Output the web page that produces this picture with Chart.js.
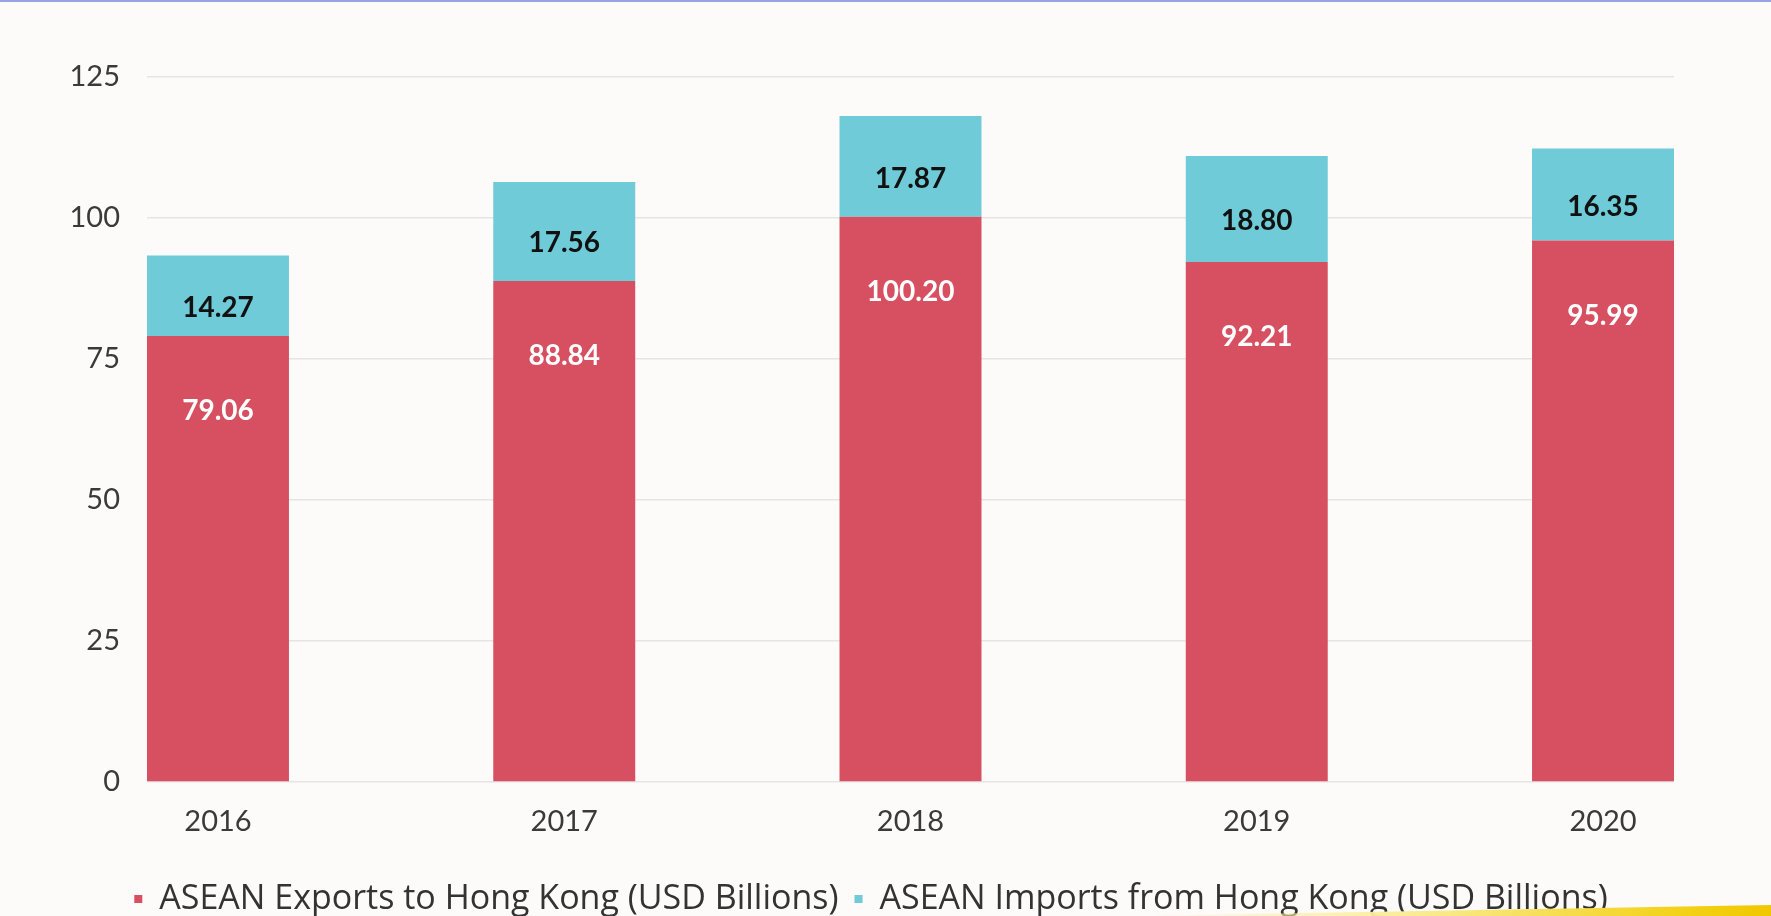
<!DOCTYPE html>
<html>
<head>
<meta charset="utf-8">
<script src="https://cdn.jsdelivr.net/npm/chart.js@4/dist/chart.umd.min.js"></script>
<style>
  html, body { margin: 0; padding: 0; background: #fdfafa; overflow: hidden; }
  body { width: 1771px; height: 916px; position: relative; }
  #topline { position: absolute; left: 0; top: 0; width: 1771px; height: 2px; background: #93a3e3; }
  #wrap { position: absolute; left: 0; top: 0; width: 1771px; height: 926px; }
  #swoosh { position: absolute; left: 1130px; top: 905px; width: 641px; height: 11px;
    background: linear-gradient(90deg, rgba(253,246,200,0) 0%, #fbeea0 40%, #f3d21a 85%, #f0c800 100%);
    clip-path: polygon(0 100%, 100% 0, 100% 100%); }
</style>
</head>
<body>
<div id="wrap"><canvas id="c" width="1771" height="926"></canvas></div>
<div id="topline"></div>
<div id="swoosh"></div>
<script>
const categories = ["2016", "2017", "2018", "2019", "2020"];
const exportsHK = [79.06, 88.84, 100.20, 92.21, 95.99];
const importsHK = [14.27, 17.56, 17.87, 18.80, 16.35];
const seriesNames = ["ASEAN Exports to Hong Kong (USD Billions)", "ASEAN Imports from Hong Kong (USD Billions)"];
const yTicks = [0, 25, 50, 75, 100, 125];

const RED = "#d65062";
const CYAN = "#6ecbd7";

const labelPlugin = {
  id: "barLabels",
  afterDatasetsDraw(chart) {
    const ctx = chart.ctx;
    ctx.save();
    ctx.textAlign = "center";
    ctx.textBaseline = "middle";
    ctx.font = "bold 28px Lato";
    chart.data.datasets.forEach((ds, di) => {
      const meta = chart.getDatasetMeta(di);
      meta.data.forEach((el, i) => {
        const v = ds.data[i].y;
        const txt = v.toFixed(2);
        if (di === 0) {
          ctx.fillStyle = "#ffffff";
          ctx.fillText(txt, el.x, el.y + 75);
        } else {
          ctx.fillStyle = "#111111";
          ctx.fillText(txt, el.x, (el.y + el.base) / 2 + 12);
        }
      });
    });
    ctx.restore();
  }
};

new Chart(document.getElementById("c"), {
  type: "bar",
  data: {
    datasets: [
      { label: seriesNames[0], data: exportsHK.map((v, i) => ({ x: i, y: v })), backgroundColor: RED, borderWidth: 0 },
      { label: seriesNames[1], data: importsHK.map((v, i) => ({ x: i, y: v })), backgroundColor: CYAN, borderWidth: 0 }
    ]
  },
  options: {
    responsive: false,
    animation: false,
    devicePixelRatio: 1,
    categoryPercentage: 1,
    barPercentage: 0.41,
    layout: { padding: { top: 77, right: 97, bottom: 0, left: 68 } },
    plugins: {
      tooltip: { enabled: false },
      legend: {
        position: "bottom",
        labels: {
          font: { family: "Open Sans", size: 34 },
          color: "#333333",
          boxWidth: 8,
          boxHeight: 8,
          padding: 16
        }
      }
    },
    scales: {
      x: {
        type: "linear",
        stacked: true,
        offset: false,
        min: -0.205,
        max: 4.205,
        grid: { display: false, offset: false },
        border: { display: false },
        afterBuildTicks(axis) { axis.ticks = categories.map((c, i) => ({ value: i })); },
        afterFit(axis) { axis.height = 84; },
        ticks: {
          padding: 14,
          color: "#3a3a3a",
          font: { family: "Lato", size: 29 },
          callback: (v) => categories[v]
        }
      },
      y: {
        stacked: true,
        min: 0,
        max: 125,
        afterBuildTicks(axis) { axis.ticks = yTicks.map(v => ({ value: v })); },
        afterFit(axis) { axis.width = 79; },
        grid: { color: "#e9e4e4", lineWidth: 1.5, drawTicks: false },
        border: { display: false },
        ticks: {
          padding: 27,
          color: "#3a3a3a",
          font: { family: "Lato", size: 29 }
        }
      }
    }
  },
  plugins: [labelPlugin]
});
</script>
</body>
</html>
